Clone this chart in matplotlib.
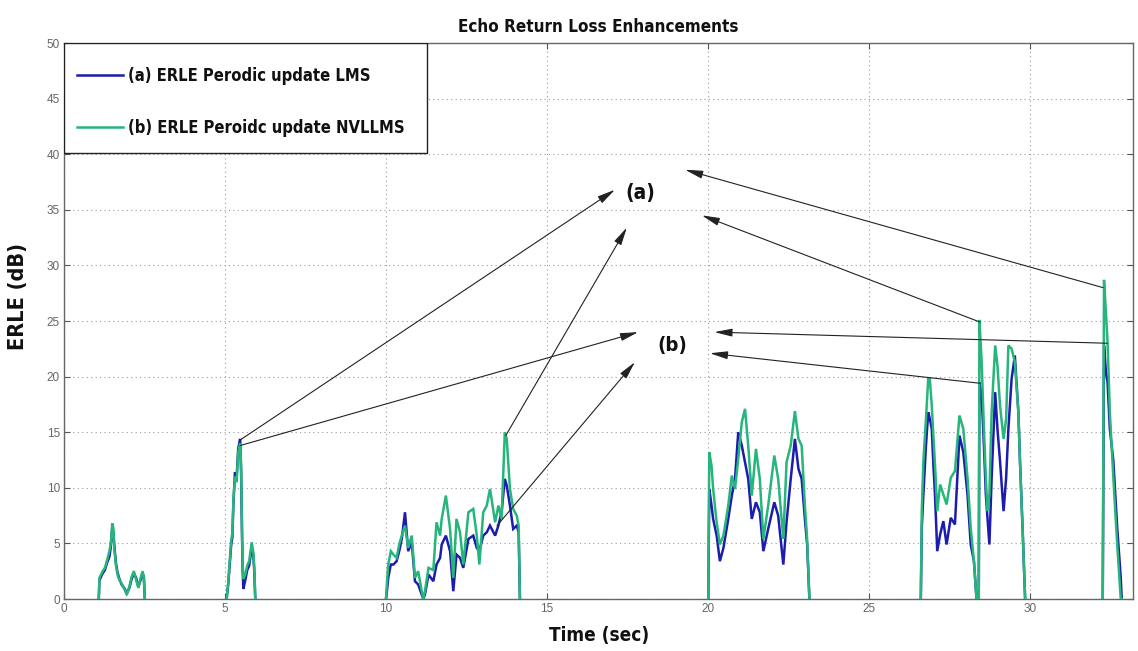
import matplotlib
matplotlib.use("Agg")
import os
import matplotlib.pyplot as plt
import numpy as np
from matplotlib import font_manager
from matplotlib.font_manager import FontProperties
from matplotlib.patches import Rectangle

# ---------------- data ----------------
title = "Echo Return Loss Enhancements"
xlabel = "Time (sec)"
ylabel = "ERLE (dB)"
label_lms = "(a) ERLE Perodic update LMS"
label_nvllms = "(b) ERLE Peroidc update NVLLMS"
xticks = [0, 5, 10, 15, 20, 25, 30]
yticks = [0, 5, 10, 15, 20, 25, 30, 35, 40, 45, 50]

seg1_t = [1.08, 1.10, 1.20, 1.27, 1.33, 1.41, 1.45, 1.50, 1.53, 1.56, 1.61, 1.66, 1.72,
          1.79, 1.89, 1.95, 2.03, 2.10, 2.17, 2.24, 2.31, 2.38, 2.44, 2.48, 2.51]
seg1_lms = [0, 1.7, 2.3, 2.6, 3.2, 3.8, 4.6, 6.5, 6.1, 4.9, 3.3, 2.4, 1.8,
            1.3, 0.9, 0.5, 1.0, 1.8, 2.3, 1.9, 1.1, 1.7, 2.3, 2.0, 0]
seg1_nvllms = [0, 1.9, 2.5, 2.8, 3.4, 4.3, 4.9, 6.8, 6.4, 4.6, 3.1, 2.2, 1.7,
               1.4, 0.8, 0.4, 1.1, 2.0, 2.5, 1.7, 1.0, 1.9, 2.5, 1.9, 0]

seg2_t = [5.05, 5.10, 5.19, 5.23, 5.26, 5.31, 5.36, 5.41, 5.47, 5.50, 5.53, 5.55, 5.57,
          5.63, 5.69, 5.75, 5.83, 5.88, 5.91, 5.94]
seg2_lms = [0, 1.3, 4.8, 5.6, 8.5, 11.4, 10.8, 13.5, 14.4, 11.5, 5.5, 2.5, 0.9,
            1.7, 2.6, 3.0, 4.6, 3.9, 2.5, 0]
seg2_nvllms = [0, 1.5, 5.2, 6.0, 8.8, 11.0, 10.5, 13.2, 14.0, 12.0, 6.0, 3.2, 1.8,
               2.2, 3.0, 3.4, 5.1, 4.2, 2.8, 0]

seg3_t = [10.00, 10.04, 10.07, 10.15, 10.23, 10.33, 10.41, 10.49, 10.59, 10.69, 10.80,
          10.90, 11.00, 11.11, 11.16, 11.21, 11.32, 11.47, 11.57, 11.68, 11.73, 11.86,
          11.99, 12.09, 12.19, 12.30, 12.40, 12.56, 12.71, 12.82, 12.90, 13.02, 13.13,
          13.23, 13.39, 13.49, 13.59, 13.69, 13.75, 13.85, 13.95, 14.06, 14.12, 14.16]
seg3_lms = [0, 1.0, 1.9, 3.1, 3.1, 3.4, 4.3, 5.4, 7.8, 4.3, 5.1,
            1.6, 1.3, 0.4, 0, 0.4, 2.2, 1.6, 3.1, 3.7, 4.9, 5.7,
            4.3, 0.7, 4.0, 3.7, 2.8, 5.4, 5.7, 4.6, 4.3, 5.7, 6.0,
            6.6, 5.7, 6.6, 7.8, 10.8, 10.2, 8.4, 6.3, 6.6, 6.0, 0]
seg3_nvllms = [0, 1.9, 3.1, 4.3, 4.0, 3.7, 4.9, 5.7, 6.6, 4.6, 5.7,
               1.9, 2.5, 0.7, 0, 0.7, 2.8, 2.6, 6.9, 5.7, 7.2, 9.3,
               6.3, 1.9, 7.2, 6.0, 3.1, 7.8, 8.1, 5.7, 3.1, 7.8, 8.4,
               9.9, 6.9, 8.4, 7.2, 15.0, 14.4, 9.9, 8.1, 7.5, 6.6, 0]

seg4_t = [20.01, 20.04, 20.11, 20.16, 20.27, 20.37, 20.48, 20.63, 20.74, 20.84, 20.94,
          21.05, 21.15, 21.25, 21.36, 21.49, 21.61, 21.72, 21.87, 22.06, 22.18, 22.34,
          22.44, 22.57, 22.70, 22.81, 22.91, 23.01, 23.08, 23.15]
seg4_lms = [0, 9.9, 8.4, 7.2, 5.7, 3.4, 4.6, 7.2, 9.3, 10.8, 15.0,
            13.8, 12.3, 10.8, 7.2, 8.7, 7.8, 4.3, 6.3, 8.7, 7.5, 3.1,
            6.9, 10.8, 14.4, 11.7, 10.8, 7.2, 4.9, 0]
seg4_nvllms = [0, 13.2, 12.0, 9.9, 6.9, 4.9, 5.7, 8.4, 11.1, 9.9, 12.6,
               15.9, 17.1, 13.8, 9.3, 13.5, 10.8, 5.4, 8.4, 12.9, 10.8, 5.4,
               12.3, 13.8, 16.9, 14.4, 13.8, 8.4, 5.4, 0]

seg5_t = [26.61, 26.64, 26.69, 26.77, 26.84, 26.89, 26.95, 27.00, 27.05, 27.12, 27.21,
          27.31, 27.41, 27.54, 27.67, 27.81, 27.93, 28.06, 28.16, 28.26, 28.34, 28.41,
          28.43, 28.50, 28.57, 28.63, 28.68, 28.74, 28.81, 28.92, 28.99, 29.07, 29.18,
          29.26, 29.33, 29.43, 29.53, 29.64, 29.69, 29.77, 29.85]
seg5_lms = [0, 6.4, 9.4, 13.8, 16.8, 16.2, 15.3, 12.1, 9.4, 4.3, 5.8,
            7.0, 4.9, 7.3, 6.7, 14.7, 13.2, 9.4, 4.9, 3.4, 0, 0,
            19.5, 18.3, 13.8, 9.4, 7.3, 4.9, 10.9, 18.6, 15.3, 12.4, 7.9,
            10.9, 15.3, 19.8, 21.9, 16.8, 12.4, 6.4, 0]
seg5_nvllms = [0, 7.9, 12.4, 16.2, 19.8, 19.8, 17.4, 14.7, 12.1, 7.9, 10.3,
               9.4, 8.5, 10.9, 11.5, 16.5, 15.3, 10.9, 6.4, 3.4, 0, 0,
               25.1, 21.3, 15.3, 10.9, 7.9, 9.4, 16.8, 22.8, 21.0, 17.4, 14.4,
               16.2, 22.8, 22.5, 21.3, 16.8, 12.4, 6.4, 0]

seg6_t = [32.26, 32.30, 32.36, 32.41, 32.48, 32.59, 32.71, 32.82, 32.85]
seg6_lms = [0, 22.8, 20.4, 19.5, 15.3, 12.4, 6.4, 1.9, 0]
seg6_nvllms = [0, 28.7, 25.7, 23.1, 16.8, 10.9, 4.9, 0, 0]

# annotation arrows: (tail x, tail y, head x, head y)
arrows_a = [(5.47, 14.3, 17.11, 36.8), (13.72, 14.7, 17.48, 33.4),
            (28.45, 24.9, 19.81, 34.5), (32.27, 28.0, 19.29, 38.6)]
arrows_b = [(5.47, 13.8, 17.83, 24.0), (13.45, 6.6, 17.73, 21.3),
            (28.45, 19.4, 20.06, 22.1), (32.40, 23.0, 20.20, 24.0)]
text_a_pos = (17.9, 36.5)
text_b_pos = (18.9, 22.8)

# ---------------- fonts ----------------
def find_condensed_bold():
    files = set(font_manager.findSystemFonts()) | {f.fname for f in font_manager.fontManager.ttflist}
    prefs = ["liberationsansnarrow-bold.", "dejavusanscondensed-bold.",
             "robotocondensed-bold.", "opensans-condensedbold.", "opensanscondensed-bold.",
             "notosans-condensedbold.", "opensans_condensed-bold.", "roboto_condensed-bold."]
    low = {os.path.basename(f).lower(): f for f in files}
    for p in prefs:
        for name, path in low.items():
            if name.startswith(p):
                return path
    for name, path in low.items():
        if ("condensed" in name or "narrow" in name) and "bold" in name and "italic" not in name:
            return path
    return None

cond_path = find_condensed_bold()

def bold_font(size):
    if cond_path:
        return FontProperties(fname=cond_path, size=size)
    return FontProperties(family="DejaVu Sans", weight="bold", size=size)

names = {f.name for f in font_manager.fontManager.ttflist}
TICKF = "Liberation Sans" if "Liberation Sans" in names else "DejaVu Sans"

BLUE = "#1c1caf"
GREEN = "#26b57a"

W, H = 1138, 651
fig = plt.figure(figsize=(W / 100, H / 100), dpi=100)
fig.patch.set_facecolor("white")
L, R, T, B = 64, 1133, 43, 599
ax = fig.add_axes([L / W, 1 - B / H, (R - L) / W, (B - T) / H])

segments = [
    (seg1_t, seg1_lms, seg1_nvllms),
    (seg2_t, seg2_lms, seg2_nvllms),
    (seg3_t, seg3_lms, seg3_nvllms),
    (seg4_t, seg4_lms, seg4_nvllms),
    (seg5_t, seg5_lms, seg5_nvllms),
    (seg6_t, seg6_lms, seg6_nvllms),
]
for i, (t, a, b) in enumerate(segments):
    ax.plot(t, a, color=BLUE, lw=1.8, label=label_lms if i == 0 else None,
            solid_joinstyle="miter", zorder=3)
for i, (t, a, b) in enumerate(segments):
    ax.plot(t, b, color=GREEN, lw=1.8, label=label_nvllms if i == 0 else None,
            solid_joinstyle="miter", zorder=4)

ax.set_xlim(0, 33.2)
ax.set_ylim(0, 50)
ax.set_xticks(xticks)
ax.set_yticks(yticks)
ax.grid(True, linestyle=(0, (1, 3)), color="#9a9a9a", lw=0.8)
ax.tick_params(direction="in", length=4, width=0.8, color="#555555",
               top=True, right=True, labelsize=8.5, labelcolor="#666666", pad=3)
for lab in ax.get_xticklabels() + ax.get_yticklabels():
    lab.set_fontfamily(TICKF)
for sp in ax.spines.values():
    sp.set_color("#666666")
    sp.set_linewidth(1.0)

arrowprops = dict(arrowstyle="-|>,head_length=0.9,head_width=0.2",
                  color="#222222", lw=0.8, mutation_scale=12, shrinkA=0, shrinkB=0)
for (x0, y0, x1, y1) in arrows_a + arrows_b:
    ax.annotate("", xy=(x1, y1), xytext=(x0, y0), arrowprops=arrowprops, zorder=5)
ta = ax.text(*text_a_pos, "(a)", fontproperties=bold_font(14),
             ha="center", va="center", color="#111111")
tb = ax.text(*text_b_pos, "(b)", fontproperties=bold_font(14),
             ha="center", va="center", color="#111111")

tt = fig.text((L + R) / 2 / W, 1 - 27 / H, title, fontproperties=bold_font(12),
              ha="center", va="center", color="#111111")
tx = fig.text(599 / W, 1 - 636 / H, xlabel, fontproperties=bold_font(15),
              ha="center", va="center", color="#111111")
ty = fig.text(18 / W, 1 - 297 / H, ylabel, fontproperties=bold_font(14),
              ha="center", va="center", rotation=90, color="#111111")

# legend frame as in the reference (64..427 px, 43..153 px)
ax_w, ax_h = R - L, B - T
ax.add_patch(Rectangle((0, 1 - (153 - T) / ax_h), (427 - L) / ax_w, (153 - T) / ax_h,
                       transform=ax.transAxes, facecolor="white", edgecolor="#222222",
                       lw=1.0, zorder=6))

fig.canvas.draw()
r = fig.canvas.get_renderer()
def fit(txt, target, vertical=False):
    bb = txt.get_window_extent(renderer=r)
    cur = bb.height if vertical else bb.width
    if cur > 0:
        txt.set_fontsize(txt.get_fontsize() * target / cur)
fit(tt, 280)
fit(tx, 100)
fit(ty, 108, vertical=True)
fit(ta, 30)
fit(tb, 30)

# legend: size the label to the reference width and place entries at 76 / 128 px
probe = fig.text(0, 0, label_lms, fontproperties=bold_font(12))
fig.canvas.draw()
pw = probe.get_window_extent(renderer=r).width
probe.remove()
lsize = 12 * 242 / pw
fs_px = lsize * 100 / 72

def make_legend(ax_anchor, ls):
    lg = ax.legend(loc="upper left", bbox_to_anchor=ax_anchor, borderaxespad=0,
                   prop=bold_font(lsize), frameon=False,
                   handlelength=46 / fs_px, handletextpad=5 / fs_px,
                   labelspacing=ls, borderpad=0.0)
    lg.set_zorder(7)
    for txt in lg.get_texts():
        txt.set_color("#111111")
    return lg

ls = 1.5
anchor = (0.0, 1.0)
leg = make_legend(anchor, ls)
fig.canvas.draw()
for _ in range(2):
    tx0 = leg.get_texts()[0].get_window_extent(renderer=r)
    tx1 = leg.get_texts()[1].get_window_extent(renderer=r)
    c0 = H - (tx0.y0 + tx0.y1) / 2
    c1 = H - (tx1.y0 + tx1.y1) / 2
    ls = ls + ((128 - 76) - (c1 - c0)) / fs_px
    dx = (128 - tx0.x0) / ax_w
    dy = -(76 - c0) / ax_h
    anchor = (anchor[0] + dx, anchor[1] + dy)
    leg.remove()
    leg = make_legend(anchor, ls)
    fig.canvas.draw()

fig.savefig("out.png", dpi=100)
